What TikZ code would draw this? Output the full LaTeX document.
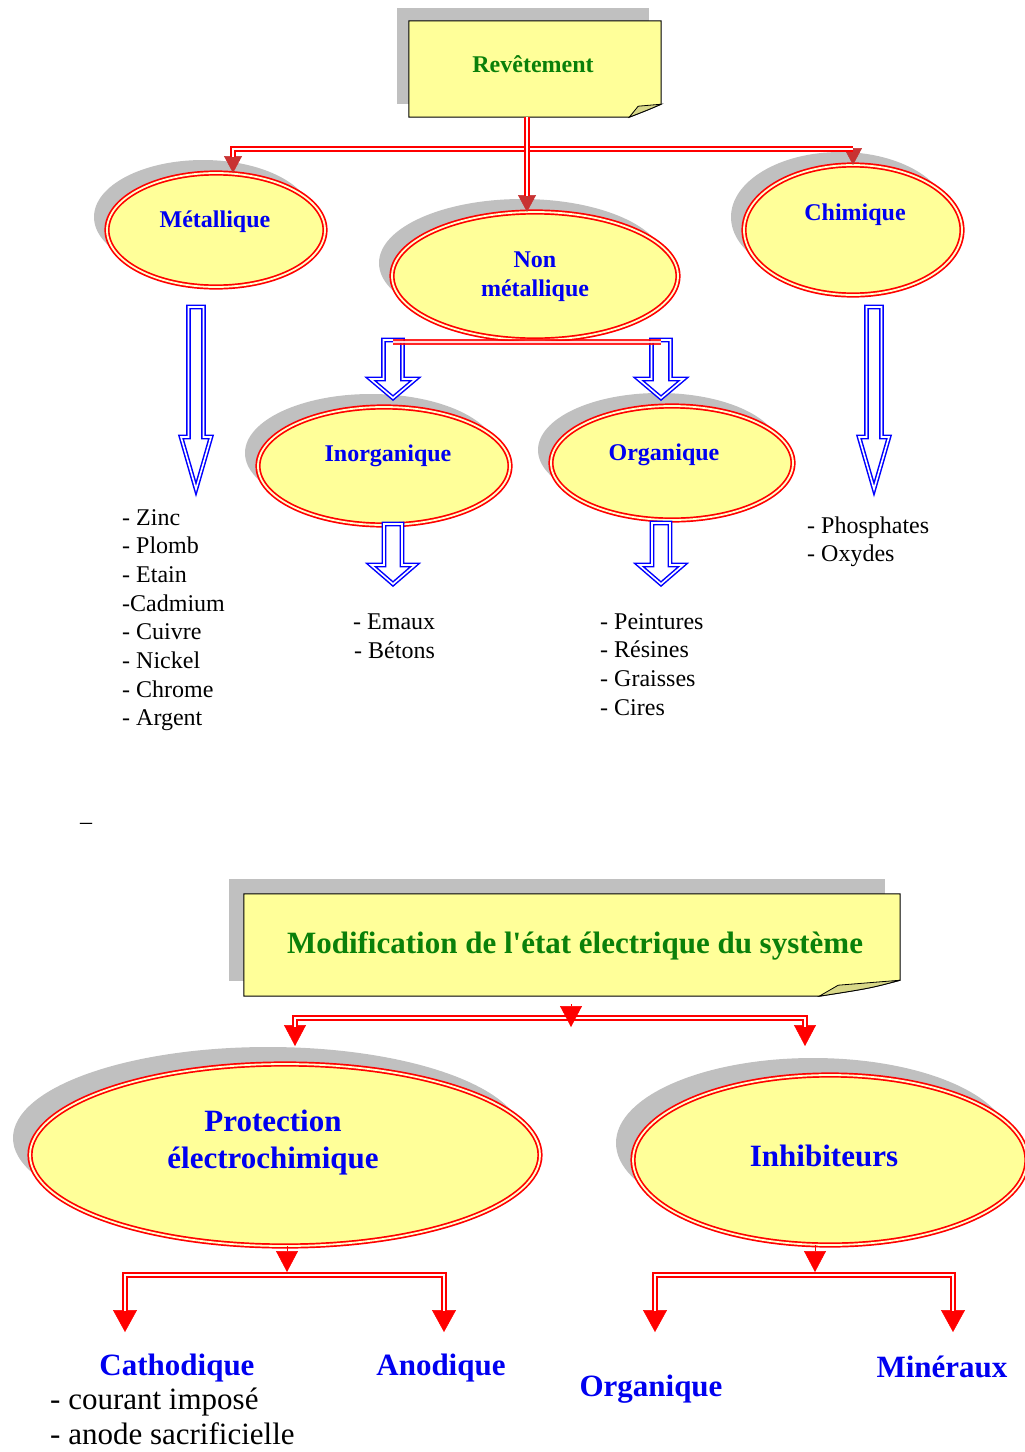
\documentclass[tikz,border=0pt]{standalone}
\usepackage{fontspec}
\setmainfont{Liberation Serif}
\newfontfamily\plainserif{Liberation Serif}
\usetikzlibrary{shapes.geometric,arrows.meta,shadows,calc}
\definecolor{shadowgray}{HTML}{C0C0C0}
\definecolor{noteyellow}{HTML}{FFFF99}
\definecolor{foldkhaki}{HTML}{D8D888}
\definecolor{titlegreen}{HTML}{0A800A}
\definecolor{lblblue}{HTML}{0000F0}
\definecolor{ovalgap}{HTML}{FFFFD0}
\definecolor{arrowdark}{HTML}{C83232}
\newcommand\hollowarrow[5]{%
  \draw[bluearrow] ($(#1)+(-#3,0)$) -- ($(#2)+(-#3,-#5)$) -- ($(#2)+(-#4,-#5)$) -- (#2)
    -- ($(#2)+(#4,-#5)$) -- ($(#2)+(#3,-#5)$) -- ($(#1)+(#3,0)$) -- cycle;}
\tikzset{
  oval/.style={ellipse, draw=red, double=ovalgap, double distance=1.8pt, line width=1.7pt,
    fill=noteyellow, inner sep=0pt, outer sep=0pt},
  shadowA/.style={drop shadow={shadow xshift=-13pt, shadow yshift=13pt, fill=shadowgray, opacity=1}},
  shadowB/.style={drop shadow={shadow xshift=-17pt, shadow yshift=17pt, fill=shadowgray, opacity=1}},
  lbl/.style={font=\fontsize{24}{29}\selectfont\bfseries, text=lblblue, inner sep=0pt, align=center},
  biglbl/.style={font=\fontsize{31}{36}\selectfont\bfseries, text=lblblue, inner sep=0pt, align=center},
  item/.style={font=\fontsize{24}{28}\selectfont, anchor=base west, inner sep=0pt},
  bigitem/.style={font=\fontsize{31}{36}\selectfont, anchor=base west, inner sep=0pt},
  dblred/.style={draw=red, double=white, double distance=2.4pt, line width=2.1pt},
  tiptop/.style={draw=arrowdark, line width=0.5pt, -{Triangle[length=17pt,width=18pt]}},
  tipmid/.style={draw=red, line width=0.5pt, -{Triangle[length=21pt,width=22pt]}},
  tiplow/.style={draw=red, line width=0.5pt, -{Triangle[length=22pt,width=24pt]}},
  bluearrow/.style={draw=blue, double=white, double distance=1.6pt, line width=1.5pt,
    line join=miter, fill=white},
}
\begin{document}
\begin{tikzpicture}[x=1pt,y=-1pt]
\useasboundingbox (0,0) rectangle (1025,1452);

% ---------- Revetement box ----------
\node[minimum width=252pt, minimum height=96pt, inner sep=0pt] (rev) at (535,69) {};
\fill[shadowgray] ($(rev.north west)+(-12,-13)$) rectangle ($(rev.south east)+(-12,-13)$);
\draw[fill=noteyellow, line width=1pt] (rev.north west) -- (rev.north east) -- ($(rev.south east)+(0,-13)$)
  .. controls ($(rev.south east)+(-14,-7)$) .. ($(rev.south east)+(-32,0)$) -- (rev.south west) -- cycle;
\draw[fill=foldkhaki, line width=0.8pt] ($(rev.south east)+(-32,0)$) -- ($(rev.south east)+(-23,-11)$)
  -- ($(rev.south east)+(0,-13)$) .. controls ($(rev.south east)+(-14,-7)$) .. ($(rev.south east)+(-32,0)$) -- cycle;
\node[font=\fontsize{24}{29}\selectfont\bfseries, text=titlegreen, inner sep=0pt] (revT) at (533,64) {Revêtement};

% ---------- ellipses (top) ----------
\node[oval, shadowA, minimum width=218pt, minimum height=114pt] (met) at (216,230) {};
\node[oval, shadowA, minimum width=286pt, minimum height=128pt] (nonmet) at (535,276) {};
\node[oval, shadowA, minimum width=218pt, minimum height=130pt] (chim) at (853,230) {};
\node[oval, shadowA, minimum width=252pt, minimum height=118pt] (inorg) at (384,466) {};
\node[oval, shadowA, minimum width=242pt, minimum height=114pt] (org) at (672,463) {};

\node[lbl] (metT) at (215,222) {Métallique};
\node[lbl] (nonmetT) at (535,277) {Non\\métallique};
\node[lbl] (chimT) at (855,215) {Chimique};
\node[lbl] (inorgT) at (388,456) {Inorganique};
\node[lbl] (orgT) at (664,455) {Organique};

% ---------- red connectors (top) ----------
\coordinate (hL) at (233,149);
\coordinate (hR) at (853,149);
\coordinate (hM) at (527,149);
\draw[tiptop] (hL) -- (hL |- met.north);
\draw[tiptop] (hR) -- (hR |- chim.north);
\draw[tiptop] (hM |- rev.south) -- (hM |- nonmet.north);
\draw[dblred, shorten <=16pt, shorten >=16pt] (hL |- met.north) -- (hL) -- (hR) -- (hR |- chim.north);
\draw[dblred, shorten >=16pt] (hM |- rev.south) -- (hM |- nonmet.north);

% ---------- blue hollow arrows ----------
\coordinate (mA) at (196,307); \coordinate (mB) at (196,489);
\coordinate (cA) at (874,307); \coordinate (cB) at (874,489);
\coordinate (iA) at (393,340); \coordinate (iB) at (393,398);
\coordinate (oA) at (661,340); \coordinate (oB) at (661,398);
\coordinate (iC) at (393,524); \coordinate (iD) at (393,584);
\coordinate (oC) at (661,523); \coordinate (oD) at (661,584);
\hollowarrow{mA}{mB}{7.5}{15}{52}
\hollowarrow{cA}{cB}{7.5}{15}{52}
\hollowarrow{iA}{iB}{9.5}{22.5}{19}
\hollowarrow{oA}{oB}{9.5}{22.5}{19}
\hollowarrow{iC}{iD}{9}{22}{19}
\hollowarrow{oC}{oD}{9}{22}{19}
\coordinate (nL) at (393,342); \coordinate (nR) at (661,342);
\draw[dblred, opacity=0.85] (nL) -- (nR);

% ---------- lists (top) ----------
\foreach \t [count=\i from 0] in {- Zinc,- Plomb,- Etain,-Cadmium,- Cuivre,- Nickel,- Chrome,- Argent}
  \node[item] (metL\i) at (122,525+28.7*\i) {\t};
\node[item] (inL0) at (353,629) {- Emaux};
\node[item] (inL1) at (354,658) {- Bétons};
\foreach \t [count=\i from 0] in {- Peintures,- Résines,- Graisses,- Cires}
  \node[item] (orgL\i) at (600,629+28.7*\i) {\t};
\node[item] (chL0) at (807,533) {- Phosphates};
\node[item] (chL1) at (807,561) {- Oxydes};
\node[item] (dash) at (80,829) {–};

% ---------- Modification box ----------
\node[minimum width=656pt, minimum height=102pt, inner sep=0pt] (mod) at (572,945) {};
\fill[shadowgray] ($(mod.north west)+(-15,-15)$) rectangle ($(mod.south east)+(-15,-15)$);
\draw[fill=noteyellow, line width=1pt] (mod.north west) -- (mod.north east) -- ($(mod.south east)+(0,-16)$)
  .. controls ($(mod.south east)+(-30,-8)$) .. ($(mod.south east)+(-81,0)$) -- (mod.south west) -- cycle;
\draw[fill=foldkhaki, line width=0.8pt] ($(mod.south east)+(-81,0)$) -- ($(mod.south east)+(-62,-11)$)
  -- ($(mod.south east)+(0,-16)$) .. controls ($(mod.south east)+(-30,-8)$) .. ($(mod.south east)+(-81,0)$) -- cycle;
\node[font=\fontsize{31}{36}\selectfont\bfseries, text=titlegreen, inner sep=0pt] (modT) at (575,946)
  {Modification de l{\plainserif '}état électrique du système};

% ---------- ellipses (bottom) ----------
\node[oval, shadowB, minimum width=510pt, minimum height=182pt] (prot) at (285,1155) {};
\node[oval, shadowB, minimum width=394pt, minimum height=170pt] (inhib) at (830,1160) {};
\node[biglbl] (protT) at (273,1143) {Protection\\[1pt]électrochimique};
\node[biglbl] (inhibT) at (824,1156) {Inhibiteurs};

% ---------- red connectors (bottom) ----------
\coordinate (bL) at (295,1018); \coordinate (bR) at (805,1018);
\coordinate (tBL) at (295,1046); \coordinate (tBR) at (805,1046);
\coordinate (bMt) at (571,1027);
\draw[tipmid] (bL) -- (tBL);
\draw[tipmid] (bR) -- (tBR);
\draw[dblred, shorten <=19pt, shorten >=19pt] (tBL) -- (bL) -- (bR) -- (tBR);
\draw[tipmid, shorten <=8pt] (mod.south -| bMt) -- (bMt);

\coordinate (pL) at (125,1275); \coordinate (pR) at (444,1275);
\coordinate (pLt) at (125,1332); \coordinate (pRt) at (444,1332);
\coordinate (pMt) at (287,1272);
\draw[tiplow] (pL) -- (pLt);
\draw[tiplow] (pR) -- (pRt);
\draw[dblred, shorten <=21pt, shorten >=21pt] (pLt) -- (pL) -- (pR) -- (pRt);
\draw[tipmid] (prot.south -| pMt) -- (pMt);

\coordinate (qL) at (655,1275); \coordinate (qR) at (953,1275);
\coordinate (qLt) at (655,1332); \coordinate (qRt) at (953,1332);
\coordinate (qMt) at (815,1272);
\draw[tiplow] (qL) -- (qLt);
\draw[tiplow] (qR) -- (qRt);
\draw[dblred, shorten <=21pt, shorten >=21pt] (qLt) -- (qL) -- (qR) -- (qRt);
\draw[tipmid] (inhib.south -| qMt) -- (qMt);

% ---------- bottom labels ----------
\node[biglbl] (cath) at (177,1368) {Cathodique};
\node[biglbl] (anod) at (441,1368) {Anodique};
\node[biglbl] (orgB) at (651,1389) {Organique};
\node[biglbl] (miner) at (942,1367) {Minéraux};
\node[bigitem] (cour) at (50,1409) {- courant imposé};
\node[bigitem] (anode) at (50,1444) {- anode sacrificielle};
\end{tikzpicture}
\end{document}
